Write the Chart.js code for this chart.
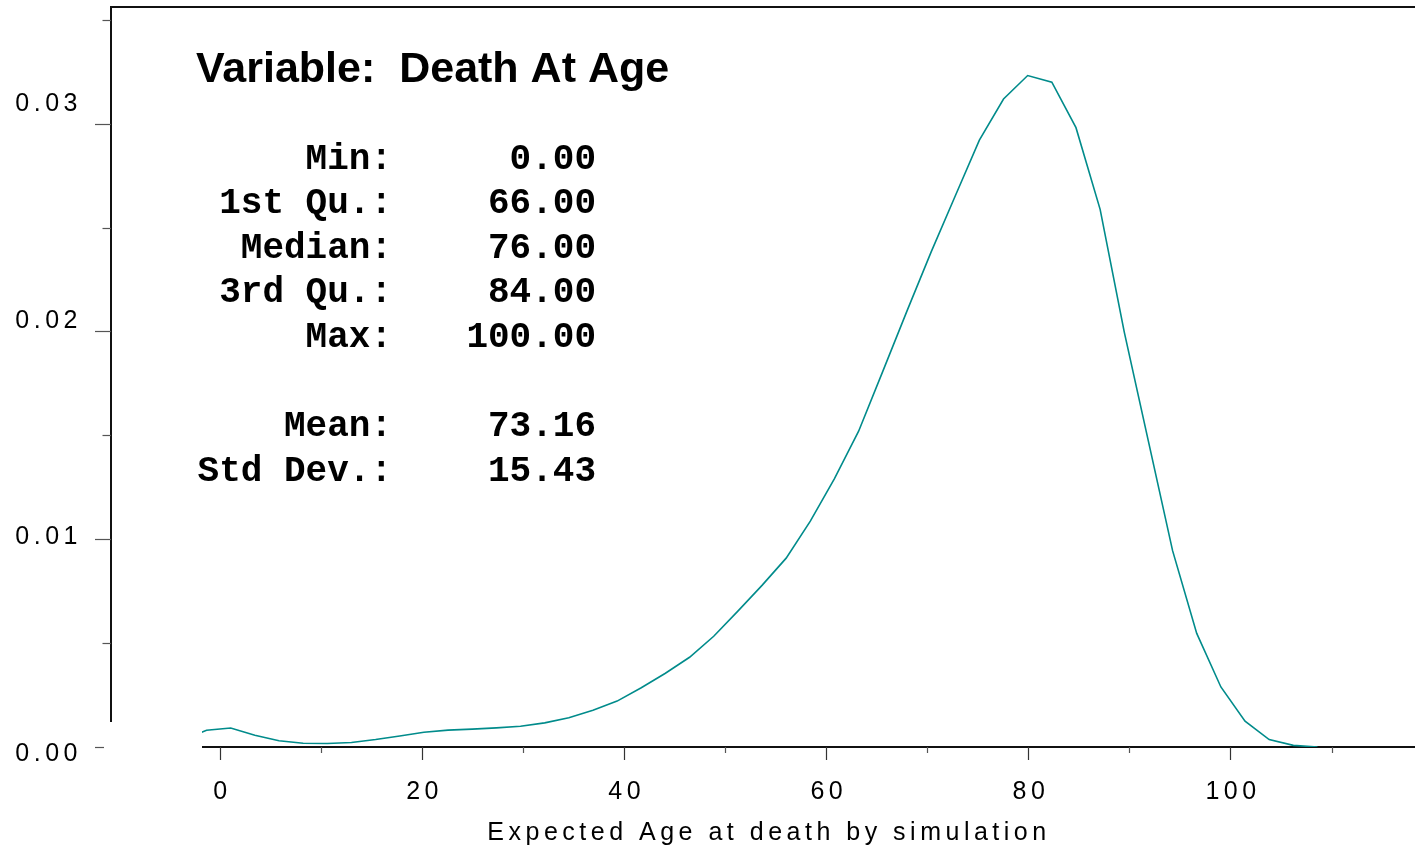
<!DOCTYPE html>
<html>
<head>
<meta charset="utf-8">
<title>Death At Age</title>
<script src="https://cdn.jsdelivr.net/npm/chart.js@4.4.1/dist/chart.umd.min.js"></script>
<style>
    html, body { margin: 0; padding: 0; background: #fff; }
    canvas { display: block; }
</style>
</head>
<body>
<canvas id="densityChart" width="1415" height="846"></canvas>
<script>
// density estimate
const ages = [-3.72, -1.33, 1.06, 3.45, 5.84, 8.23, 10.62, 13.01, 15.40, 17.79,
    20.18, 22.57, 24.96, 27.35, 29.74, 32.13, 34.52, 36.91, 39.30, 41.69,
    44.08, 46.47, 48.86, 51.25, 53.64, 56.03, 58.42, 60.81, 63.20, 65.59,
    67.98, 70.37, 72.76, 75.15, 77.54, 79.93, 82.32, 84.71, 87.10, 89.49,
    91.88, 94.27, 96.66, 99.05, 101.44, 103.83, 106.22, 108.61];
const density = [0.00032, 0.00081, 0.000915, 0.00057, 0.00030, 0.00018, 0.00017, 0.00022, 0.00036, 0.00053,
    0.00071, 0.00081, 0.00086, 0.00092, 0.00100, 0.00116, 0.00141, 0.00177, 0.00221, 0.00285,
    0.00355, 0.00432, 0.00533, 0.00654, 0.00778, 0.00909, 0.01087, 0.01292, 0.01520, 0.01808,
    0.02098, 0.02382, 0.02652, 0.02921, 0.03119, 0.03232, 0.03200, 0.02981, 0.02588, 0.01997,
    0.01471, 0.00945, 0.00547, 0.00289, 0.00124, 0.00036, 0.00008, 0.0];

const xMajorTicks = [0, 20, 40, 60, 80, 100];
const xMinorTicks = [10, 30, 50, 70, 90, 110];
const yMajorTicks = [0.00, 0.01, 0.02, 0.03];
const yMinorTicks = [0.005, 0.015, 0.025, 0.035];

const titleText = 'Variable:  Death At Age';
const xTitle = 'Expected Age at death by simulation';
const statLabels = ['Min:', '1st Qu.:', 'Median:', '3rd Qu.:', 'Max:', '', 'Mean:', 'Std Dev.:'];
const statValues = ['0.00', '66.00', '76.00', '84.00', '100.00', '', '73.16', '15.43'];

const SANS = '"Liberation Sans", Arial, Helvetica, sans-serif';
const MONO = '"Liberation Mono", "Courier New", monospace';

const axesPlugin = {
    id: 'splusAxes',
    beforeDraw(chart) {
        const ctx = chart.ctx;
        ctx.save();
        ctx.fillStyle = '#fff';
        ctx.fillRect(0, 0, chart.width, chart.height);
        ctx.restore();
    },
    beforeDatasetsDraw(chart) {
        const ctx = chart.ctx;
        const x = chart.scales.x;
        const y = chart.scales.y;
        const area = chart.chartArea;
        const yAxisX = 111;
        const y0 = y.getPixelForValue(0);

        ctx.save();
        // frame: left axis and top line
        ctx.strokeStyle = '#111';
        ctx.lineWidth = 2;
        ctx.beginPath();
        ctx.moveTo(yAxisX, 722);
        ctx.lineTo(yAxisX, area.top - 1);
        ctx.lineTo(area.right, area.top - 1);
        ctx.stroke();

        // x axis line
        ctx.beginPath();
        ctx.moveTo(area.left, y0);
        ctx.lineTo(area.right, y0);
        ctx.stroke();

        // x ticks
        ctx.lineWidth = 1.2;
        ctx.strokeStyle = '#333';
        xMajorTicks.forEach(v => {
            const px = Math.round(x.getPixelForValue(v)) + 0.5;
            ctx.beginPath();
            ctx.moveTo(px, y0);
            ctx.lineTo(px, y0 + 13);
            ctx.stroke();
        });
        ctx.strokeStyle = '#555';
        xMinorTicks.forEach(v => {
            const px = Math.round(x.getPixelForValue(v)) + 0.5;
            ctx.beginPath();
            ctx.moveTo(px, y0);
            ctx.lineTo(px, y0 + 6);
            ctx.stroke();
        });

        // y ticks
        ctx.strokeStyle = '#555';
        yMajorTicks.forEach(v => {
            const py = Math.round(y.getPixelForValue(v)) + 0.5;
            ctx.beginPath();
            if (v === 0) {
                ctx.moveTo(95, py);
                ctx.lineTo(104, py);
            } else {
                ctx.moveTo(95, py);
                ctx.lineTo(yAxisX, py);
            }
            ctx.stroke();
        });
        yMinorTicks.forEach(v => {
            const py = Math.round(y.getPixelForValue(v)) + 0.5;
            ctx.beginPath();
            ctx.moveTo(102.5, py);
            ctx.lineTo(yAxisX, py);
            ctx.stroke();
        });
        ctx.restore();
    },
    afterDraw(chart) {
        const ctx = chart.ctx;
        const x = chart.scales.x;
        const y = chart.scales.y;
        const y0 = y.getPixelForValue(0);

        ctx.save();
        ctx.fillStyle = '#000';
        ctx.textBaseline = 'alphabetic';

        // y tick labels (the original spreads them a bit wider than the ticks)
        ctx.font = '25px ' + SANS;
        ctx.letterSpacing = '4.5px';
        ctx.textAlign = 'right';
        yMajorTicks.forEach(v => {
            const p = y.getPixelForValue(v);
            const centre = 751.7 + (p - y0) * 1.042;
            ctx.fillText(v.toFixed(2), 82, centre + 9);
        });

        // x tick labels
        ctx.textAlign = 'center';
        xMajorTicks.forEach(v => {
            ctx.fillText(String(v), x.getPixelForValue(v) + 2.5, 799);
        });

        // x title
        ctx.fillText(xTitle, 769, 840);

        // title
        ctx.letterSpacing = '0px';
        ctx.textAlign = 'left';
        ctx.font = 'bold 43px ' + SANS;
        ctx.fillText(titleText, 196, 82);

        // summary stats
        ctx.font = 'bold 36px ' + MONO;
        statLabels.forEach((lab, i) => {
            if (!lab) return;
            const base = 168.5 + i * 44.6;
            ctx.textAlign = 'right';
            ctx.fillText(lab, 392, base);
            ctx.fillText(statValues[i], 596, base);
        });
        ctx.restore();
    }
};

document.addEventListener('DOMContentLoaded', function() {
    const points = ages.map((a, i) => ({ x: a, y: density[i] }));

    new Chart(document.getElementById('densityChart'), {
        type: 'line',
        data: {
            datasets: [{
                label: 'Death At Age',
                data: points,
                borderColor: '#008b8b',
                borderWidth: 1.6,
                pointRadius: 0,
                tension: 0,
                fill: false
            }]
        },
        options: {
            responsive: false,
            animation: false,
            devicePixelRatio: 1,
            layout: {
                padding: { left: 202, right: 0, top: 8, bottom: 99 }
            },
            plugins: {
                legend: { display: false },
                tooltip: { enabled: false },
                title: { display: false }
            },
            scales: {
                x: {
                    type: 'linear',
                    min: -1.78,
                    max: 118.26,
                    display: false
                },
                y: {
                    type: 'linear',
                    min: 0,
                    max: 0.03557,
                    display: false
                }
            }
        },
        plugins: [axesPlugin]
    });
});
</script>
</body>
</html>
